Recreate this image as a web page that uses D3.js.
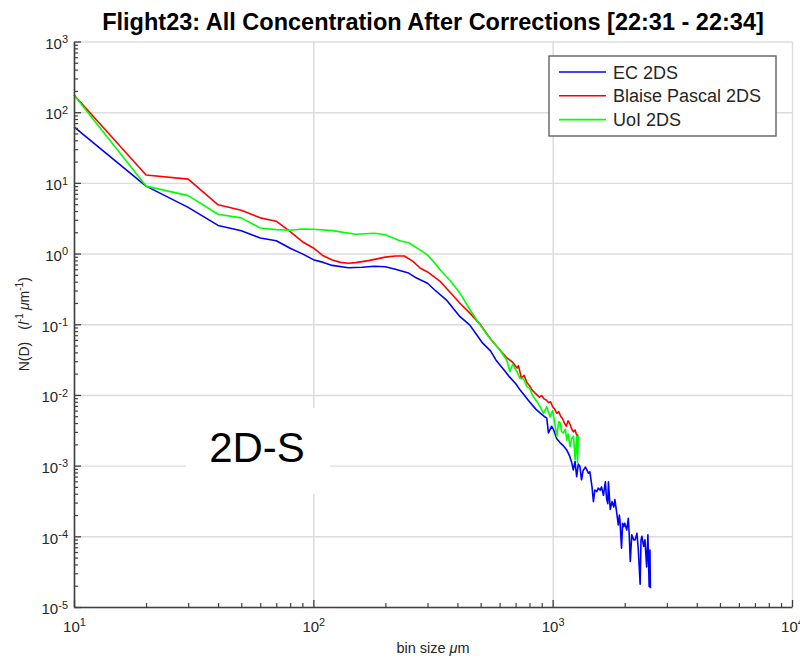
<!DOCTYPE html>
<html>
<head>
<meta charset="utf-8">
<script src="https://cdn.jsdelivr.net/npm/d3@7"></script>
<style>
    body { margin: 0; background: #fff; }
    svg { display: block; font-family: "Liberation Sans", Arial, sans-serif; }
</style>
</head>
<body>
<div id="container"></div>
<script>

const titleText = "Flight23: All Concentration After Corrections [22:31 - 22:34]";
const seriesNames = ["EC 2DS", "Blaise Pascal 2DS", "UoI 2DS"];
const seriesColors = ["#0000ff", "#ff0000", "#00ff00"];
const xDecades = [1e1, 1e2, 1e3, 1e4];
const yDecades = [1e-5, 1e-4, 1e-3, 1e-2, 1e-1, 1e0, 1e1, 1e2, 1e3];

// [bin size (um), N(D)]
const ecData = [
    [10, 62], [20, 9.0], [30, 4.5], [40, 2.5], [50, 2.1], [60, 1.66], [70, 1.52], [80, 1.19],
    [90, 0.99], [100, 0.82], [110, 0.75], [120, 0.68], [140, 0.63], [160, 0.64], [180, 0.66],
    [200, 0.65], [220, 0.60], [250, 0.53], [270, 0.45], [300, 0.38], [320, 0.31], [360, 0.22],
    [410, 0.128], [450, 0.098], [510, 0.054], [550, 0.042], [580, 0.031], [630, 0.022],
    [660, 0.018], [700, 0.0145], [730, 0.0118], [800, 0.0080], [850, 0.0063], [890, 0.0055],
    [920, 0.0050], [945, 0.0047], [960, 0.0029], [990, 0.0036], [1010, 0.0032], [1040, 0.0024],
    [1075, 0.0021], [1110, 0.0019], [1145, 0.00167], [1180, 0.00134], [1200, 0.00112],
    [1220, 0.00087], [1240, 0.00114], [1260, 0.0007], [1280, 0.00105], [1300, 0.00097],
    [1320, 0.00063], [1340, 0.00085], [1370, 0.00095], [1390, 0.00087], [1410, 0.00078],
    [1430, 0.00082], [1460, 0.00050], [1480, 0.00031], [1500, 0.00045], [1530, 0.00043],
    [1550, 0.00048], [1580, 0.00045], [1600, 0.00050], [1630, 0.00038], [1660, 0.00059],
    [1680, 0.00034], [1700, 0.00029], [1710, 0.00059], [1740, 0.00024], [1770, 0.00031],
    [1800, 0.00026], [1820, 0.00033], [1850, 0.00022], [1880, 0.000145], [1900, 0.00020],
    [1910, 0.00017], [1940, 0.000068], [1960, 0.000153], [1980, 0.000137], [2000, 0.000153],
    [2040, 0.000123], [2070, 0.00018], [2090, 0.00010], [2110, 0.000044], [2140, 0.000105],
    [2180, 0.000089], [2210, 0.000089], [2250, 0.00011], [2280, 0.000064], [2320, 0.000021],
    [2340, 0.000089], [2360, 0.00010], [2400, 0.000072], [2430, 0.000089], [2470, 0.000037],
    [2500, 0.000105], [2530, 0.0000195], [2550, 0.000064], [2560, 0.0000184]
];

const bpData = [
    [10, 175], [20, 12.9], [30, 11.3], [40, 4.9], [50, 4.1], [60, 3.2], [70, 2.87], [80, 2.04],
    [90, 1.47], [100, 1.2], [110, 0.93], [120, 0.81], [130, 0.75], [140, 0.73], [150, 0.745],
    [170, 0.795], [200, 0.89], [220, 0.925], [240, 0.925], [260, 0.78], [280, 0.62], [300, 0.55],
    [340, 0.40], [410, 0.198], [450, 0.145], [500, 0.098], [550, 0.062], [600, 0.044],
    [640, 0.034], [680, 0.029], [710, 0.024], [720, 0.026], [740, 0.0172], [760, 0.019],
    [780, 0.0150], [800, 0.0135], [820, 0.0118], [840, 0.0108], [860, 0.0100], [880, 0.0093],
    [900, 0.0098], [920, 0.0088], [940, 0.0085], [960, 0.0078], [980, 0.0080], [1000, 0.0068],
    [1020, 0.0063], [1040, 0.0055], [1060, 0.0058], [1080, 0.0050], [1100, 0.0046],
    [1120, 0.0040], [1140, 0.0036], [1160, 0.0043], [1180, 0.0039], [1200, 0.0033],
    [1220, 0.0030], [1240, 0.0032], [1260, 0.0027], [1280, 0.0027]
];

const uoiData = [
    [10, 175], [20, 9.0], [30, 6.6], [40, 3.6], [50, 3.2], [60, 2.3], [70, 2.18], [80, 2.14],
    [90, 2.23], [100, 2.21], [120, 2.11], [150, 1.88], [180, 1.94], [200, 1.85], [230, 1.52],
    [250, 1.42], [280, 1.12], [300, 0.95], [320, 0.75], [340, 0.58], [372, 0.42], [410, 0.275],
    [452, 0.159], [497, 0.098], [547, 0.063], [600, 0.044], [643, 0.031], [663, 0.0214],
    [680, 0.027], [708, 0.0215], [730, 0.0172], [755, 0.0172], [780, 0.0131], [800, 0.0125],
    [829, 0.0095], [860, 0.0080], [886, 0.0068], [915, 0.0055], [944, 0.0068], [975, 0.0049],
    [1000, 0.0060], [1020, 0.0040], [1040, 0.0026], [1060, 0.0042], [1075, 0.0040],
    [1090, 0.0030], [1110, 0.0029], [1130, 0.0033], [1145, 0.0023], [1160, 0.0028],
    [1182, 0.00186], [1200, 0.0024], [1222, 0.0026], [1241, 0.0012], [1261, 0.0026],
    [1270, 0.0011], [1280, 0.0027]
];

const allSeries = [ecData, bpData, uoiData];

// chart dimensions
const width = 800;
const height = 659;
const marginTop = 41.5;
const marginRight = 8;
const marginBottom = 52;
const marginLeft = 74;
const textColor = "#262626";

const x = d3.scaleLog()
    .domain([1e1, 1e4])
    .range([marginLeft, width - marginRight]);

const y = d3.scaleLog()
    .domain([1e-5, 1e3])
    .range([height - marginBottom, marginTop]);

const svg = d3.select("#container").append("svg")
    .attr("width", width)
    .attr("height", height);

// grid lines at decades
svg.append("g")
    .attr("transform", `translate(0,${height - marginBottom})`)
    .call(d3.axisBottom(x).tickValues(xDecades).tickSize(-(height - marginBottom - marginTop)).tickFormat(""))
    .call(g => g.select(".domain").remove())
    .call(g => g.selectAll("line").attr("stroke", "#dcdcdc").attr("stroke-width", 1.4));

svg.append("g")
    .attr("transform", `translate(${marginLeft},0)`)
    .call(d3.axisLeft(y).tickValues(yDecades).tickSize(-(width - marginRight - marginLeft)).tickFormat(""))
    .call(g => g.select(".domain").remove())
    .call(g => g.selectAll("line").attr("stroke", "#dcdcdc").attr("stroke-width", 1.4));

// "2D-S" annotation box
svg.append("rect")
    .attr("x", 186).attr("y", 408)
    .attr("width", 144).attr("height", 86)
    .attr("fill", "#fff");

svg.append("text")
    .attr("x", 257)
    .attr("y", 462)
    .attr("text-anchor", "middle")
    .attr("font-size", 42)
    .attr("fill", "#000")
    .text("2D-S");

// data lines
const line = d3.line()
    .x(d => x(d[0]))
    .y(d => y(d[1]));

allSeries.forEach((data, i) => {
    svg.append("path")
        .datum(data)
        .attr("fill", "none")
        .attr("stroke", seriesColors[i])
        .attr("stroke-width", 1.6)
        .attr("stroke-linejoin", "round")
        .attr("d", line);
});

// minor ticks
const xMinor = x.ticks().filter(v => !xDecades.includes(v));
const yMinor = y.ticks().filter(v => !yDecades.some(d => Math.abs(d - v) / d < 1e-9));

svg.append("g")
    .attr("transform", `translate(0,${height - marginBottom})`)
    .call(d3.axisBottom(x).tickValues(xMinor).tickSize(-4).tickFormat(""))
    .call(g => g.select(".domain").remove())
    .call(g => g.selectAll("line").attr("stroke", "#404040").attr("stroke-width", 1.2));

svg.append("g")
    .attr("transform", `translate(${marginLeft},0)`)
    .call(d3.axisLeft(y).tickValues(yMinor).tickSize(-4).tickFormat(""))
    .call(g => g.select(".domain").remove())
    .call(g => g.selectAll("line").attr("stroke", "#404040").attr("stroke-width", 1.2));

// main axes with 10^n labels
function powerLabels(g, dy) {
    g.selectAll(".tick text")
        .attr("fill", textColor)
        .attr("font-size", 15)
        .attr("dy", dy)
        .text("10")
        .append("tspan")
        .attr("dy", "-0.5em")
        .attr("font-size", 11)
        .text(d => Math.round(Math.log10(d)));
}

svg.append("g")
    .attr("transform", `translate(0,${height - marginBottom})`)
    .call(d3.axisBottom(x).tickValues(xDecades).tickSize(-7).tickSizeOuter(0).tickPadding(14))
    .call(g => g.select(".domain").attr("stroke", "#404040").attr("stroke-width", 1.6))
    .call(g => g.selectAll(".tick line").attr("stroke", "#404040").attr("stroke-width", 1.3))
    .call(g => powerLabels(g, "0.71em"));

svg.append("g")
    .attr("transform", `translate(${marginLeft},0)`)
    .call(d3.axisLeft(y).tickValues(yDecades).tickSize(-7).tickSizeOuter(0).tickPadding(6))
    .call(g => g.select(".domain").attr("stroke", "#404040").attr("stroke-width", 1.6))
    .call(g => g.selectAll(".tick line").attr("stroke", "#404040").attr("stroke-width", 1.3))
    .call(g => powerLabels(g, "0.45em"));

// title
svg.append("text")
    .attr("x", (marginLeft + width - marginRight) / 2)
    .attr("y", 30)
    .attr("text-anchor", "middle")
    .attr("font-size", 23.5)
    .attr("font-weight", "bold")
    .attr("fill", "#000")
    .text(titleText);

// x label
const xLabel = svg.append("text")
    .attr("x", (marginLeft + width - marginRight) / 2)
    .attr("y", 653)
    .attr("text-anchor", "middle")
    .attr("font-size", 14.5)
    .attr("fill", textColor);
xLabel.append("tspan").text("bin size ");
xLabel.append("tspan").attr("font-style", "italic").text("\u03bc");
xLabel.append("tspan").text("m");

// y label
const yLabel = svg.append("text")
    .attr("transform", `translate(29,${(marginTop + height - marginBottom) / 2}) rotate(-90)`)
    .attr("text-anchor", "middle")
    .attr("font-size", 14)
    .attr("fill", textColor);
yLabel.append("tspan").text("N(D)");
yLabel.append("tspan").attr("dx", 12).text("(");
yLabel.append("tspan").attr("font-style", "italic").text("l");
yLabel.append("tspan").attr("font-size", 10).attr("dy", -6).text("-1");
yLabel.append("tspan").attr("dy", 6).attr("dx", 3).attr("font-style", "italic").text("\u03bc");
yLabel.append("tspan").text("m");
yLabel.append("tspan").attr("font-size", 10).attr("dy", -6).text("-1");
yLabel.append("tspan").attr("dy", 6).text(")");

// legend
const legend = svg.append("g");
legend.append("rect")
    .attr("x", 549).attr("y", 56)
    .attr("width", 227).attr("height", 80)
    .attr("fill", "#fff")
    .attr("stroke", "#555")
    .attr("stroke-width", 1.3);

seriesNames.forEach((name, i) => {
    const ly = 72 + i * 23.8;
    legend.append("line")
        .attr("x1", 559).attr("x2", 606)
        .attr("y1", ly).attr("y2", ly)
        .attr("stroke", seriesColors[i])
        .attr("stroke-width", 1.6);
    legend.append("text")
        .attr("x", 613)
        .attr("y", ly + 6.5)
        .attr("font-size", 18)
        .attr("fill", textColor)
        .text(name);
});

</script>
</body>
</html>
